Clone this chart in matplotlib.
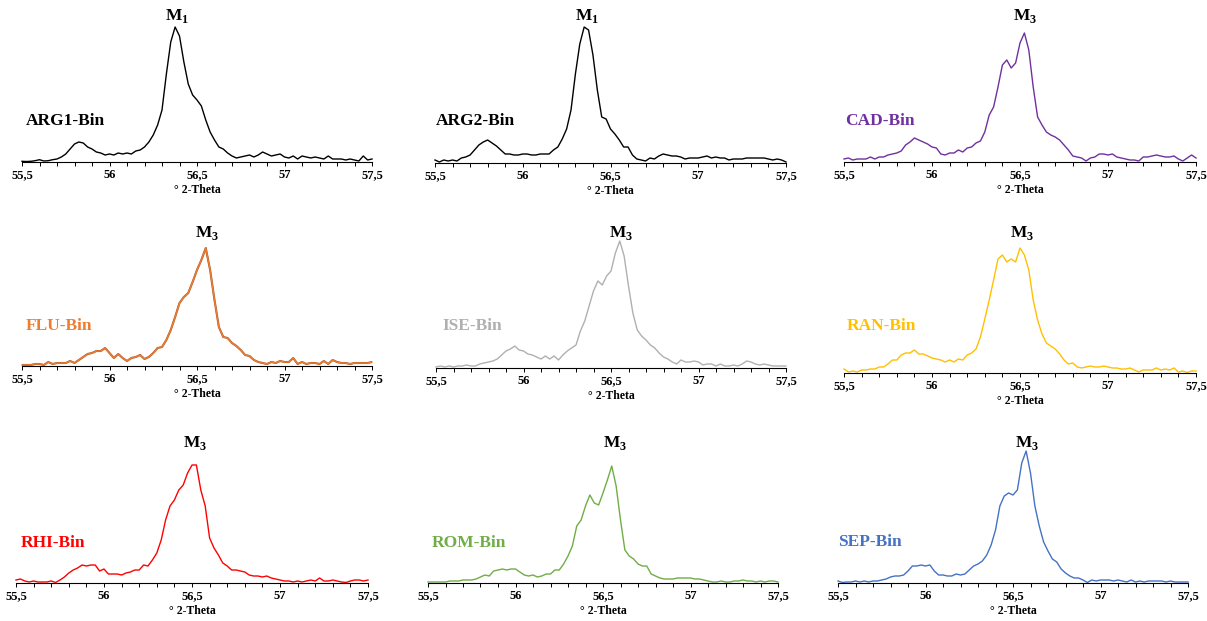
import matplotlib
matplotlib.use("Agg")
import matplotlib.pyplot as plt
import numpy as np

plt.rcParams['font.family'] = ['Liberation Serif', 'DejaVu Serif']
plt.rcParams['font.weight'] = 'bold'
plt.rcParams['mathtext.fontset'] = 'custom'
plt.rcParams['mathtext.bf'] = 'Liberation Serif:bold'
plt.rcParams['mathtext.rm'] = 'Liberation Serif:bold'

# 2-theta sampling (step 0.025 deg)
two_theta = np.round(np.arange(55.5, 57.5001, 0.025), 3)

samples = ["ARG1-Bin", "ARG2-Bin", "CAD-Bin", "FLU-Bin", "ISE-Bin",
           "RAN-Bin", "RHI-Bin", "ROM-Bin", "SEP-Bin"]
phases = ["1", "1", "3", "3", "3", "3", "3", "3", "3"]
colors = ["#000000", "#000000", "#7030A0", "#ED7D31", "#B0B0B0",
          "#FFC000", "#FF0000", "#70AD47", "#4472C4"]

# intensities (arbitrary units)
arg1 = [0.7, 0.5, 0.7, 1.3, 2.3, 1, 1.3, 2.3, 3, 5, 8, 13, 18, 20, 19, 15, 13, 10, 9, 7,
        8, 7, 9, 8, 9, 8, 11, 12, 15, 20, 27, 37, 52, 88, 120, 135, 126, 100, 78, 67,
        62, 56, 42, 30, 22, 15, 13, 9, 6, 4, 5, 6, 7, 5, 7, 10, 8, 6, 7, 8,
        5, 4, 6, 3, 6, 5, 4, 5, 4, 3, 6, 3, 3, 3, 2, 3, 2, 1, 6, 2, 3]
arg2 = [3, 1, 3, 2, 3, 2, 5, 6, 8, 13, 18, 21, 23, 20, 17, 13, 9, 9, 8, 8,
        9, 9, 8, 8, 9, 9, 9, 13, 16, 24, 34, 53, 89, 119, 136, 133, 108, 73, 46, 44,
        34, 29, 23, 16, 16, 8, 4, 3, 2, 5, 4, 7, 9, 8, 7, 7, 6, 4, 5, 5,
        5, 6, 7, 5, 6, 5, 5, 3, 4, 4, 4, 5, 5, 5, 5, 5, 4, 3, 4, 3, 1]
cad = [3, 4, 2, 3, 3, 3, 5, 3, 5, 5, 7, 8, 9, 11, 17, 20, 24, 22, 20, 18,
       15, 14, 8, 7, 9, 9, 12, 10, 14, 15, 19, 21, 30, 47, 55, 75, 97, 102, 94, 99,
       119, 129, 112, 75, 45, 37, 30, 27, 25, 22, 17, 12, 6, 5, 4, 1, 4, 5, 8, 8,
       7, 8, 5, 4, 3, 2, 2, 1, 5, 5, 6, 7, 6, 5, 5, 6, 3, 1, 4, 7, 4]
flu = [1, 1, 1, 2, 2, 1, 4, 2, 3, 3, 3, 5, 3, 6, 9, 12, 13, 15, 15, 18,
       13, 8, 12, 8, 5, 8, 9, 11, 7, 9, 13, 18, 19, 26, 36, 49, 63, 69, 73, 84,
       96, 106, 118, 96, 66, 39, 29, 28, 23, 20, 16, 11, 10, 6, 4, 3, 2, 4, 3, 5,
       4, 4, 8, 2, 4, 2, 3, 3, 2, 5, 2, 6, 4, 3, 3, 2, 3, 3, 3, 3, 4]
ise = [1, 2, 1, 2, 1, 2, 2, 3, 2, 2, 4, 5, 6, 7, 9, 13, 17, 19, 22, 18,
       17, 14, 13, 11, 9, 12, 9, 12, 8, 13, 17, 20, 23, 37, 47, 62, 77, 87, 83, 92,
       97, 115, 127, 112, 82, 55, 38, 32, 28, 23, 20, 15, 11, 9, 6, 4, 8, 6, 6, 7,
       6, 3, 4, 4, 2, 4, 2, 2, 3, 2, 4, 7, 6, 4, 3, 4, 3, 2, 2, 2, 2]
ran = [4, 1, 2, 1, 3, 3, 4, 4, 6, 6, 9, 13, 13, 18, 20, 20, 23, 19, 19, 17,
       15, 14, 13, 11, 13, 11, 14, 13, 18, 20, 24, 36, 54, 73, 93, 114, 118, 111, 114, 111,
       125, 118, 103, 73, 53, 39, 30, 27, 24, 19, 13, 9, 10, 6, 5, 6, 7, 6, 6, 7,
       6, 5, 5, 4, 4, 5, 3, 1, 3, 3, 3, 5, 3, 4, 3, 5, 1, 2, 0.5, 2, 2]
rhi = [3, 4, 2, 1, 2, 1, 1, 1, 2, 0.5, 3, 6, 10, 13, 15, 18, 17, 18, 18, 12,
       14, 9, 9, 9, 8, 10, 11, 13, 13, 18, 17, 23, 30, 43, 63, 77, 83, 93, 98, 110,
       118, 118, 93, 77, 45, 35, 28, 20, 17, 13, 13, 12, 11, 8, 7, 7, 6, 7, 5, 4,
       3, 2, 2, 1, 2, 1, 2, 3, 2, 5, 2, 2, 3, 2, 1, 0.5, 2, 3, 3, 2, 3]
rom = [1, 1, 1, 1, 1, 2, 2, 2, 3, 3, 3, 4, 6, 8, 7, 12, 13, 14, 13, 14,
       14, 11, 8, 7, 8, 6, 7, 9, 9, 13, 13, 19, 27, 37, 57, 63, 77, 88, 80, 78,
       90, 103, 117, 97, 63, 33, 27, 24, 19, 17, 17, 9, 7, 5, 4, 4, 4, 5, 5, 5,
       5, 4, 4, 3, 2, 1, 1, 2, 1, 1, 2, 2, 3, 2, 2, 1, 2, 1, 2, 2, 1]
sep = [2, 0.5, 1, 1, 2, 1, 2, 1, 2, 2, 3, 4, 6, 7, 7, 8, 12, 17, 17, 18,
       17, 18, 12, 8, 8, 7, 7, 9, 8, 9, 13, 17, 19, 22, 28, 38, 53, 77, 87, 90,
       88, 93, 120, 132, 110, 77, 57, 41, 32, 24, 21, 14, 10, 7, 5, 5, 3, 0.5, 3, 2,
       3, 3, 3, 2, 3, 2, 1, 3, 1, 2, 1, 2, 2, 2, 2, 1, 2, 1, 1, 1, 1]
series = [arg1, arg2, cad, flu, ise, ran, rhi, rom, sep]

tick_pos = [55.5, 56, 56.5, 57, 57.5]
tick_lab = ["55,5", "56", "56,5", "57", "57,5"]

# panel layout in pixels (left, right, baseline y)
W, H = 1207, 621
lefts = [22, 435, 844, 22, 436, 844, 16, 428, 838]
rights = [372, 786, 1196, 372, 786, 1196, 368, 778, 1188]
base_y = [162, 163, 162, 366, 368, 373, 583, 583, 583]
name_xy = [(26, 121), (436, 121), (845, 121), (26, 326), (442, 326), (847, 326),
           (21, 543), (432, 543), (838, 542)]
phase_xy = [(177, 16), (587, 16), (1025, 16), (207, 233), (621, 233), (1022, 233),
            (195, 443), (615, 443), (1027, 443)]
top_h = 145

fig = plt.figure(figsize=(W / 100, H / 100), dpi=100)

for i in range(9):
    ax = fig.add_axes([lefts[i] / W, 1 - base_y[i] / H,
                       (rights[i] - lefts[i]) / W, top_h / H])
    if i == 3:
        ax.plot(two_theta, series[i], color="#A8572A", lw=1.5)
    ax.plot(two_theta, series[i], color=colors[i], lw=1.0, clip_on=False)
    ax.set_xlim(55.5, 57.5)
    ax.set_ylim(0, top_h)
    for s in ["top", "left", "right"]:
        ax.spines[s].set_visible(False)
    ax.spines["bottom"].set_linewidth(0.8)
    ax.set_yticks([])
    ax.set_xticks(tick_pos)
    ax.set_xticklabels(tick_lab)
    ax.set_xticks(np.round(np.arange(55.5, 57.51, 0.1), 1), minor=True)
    ax.tick_params(axis="x", which="both", direction="out", length=3, width=0.7,
                   labelsize=9, pad=2)
    ax.patch.set_alpha(0)
    cx = (lefts[i] + rights[i]) / 2
    fig.text(cx / W, 1 - (base_y[i] + 28) / H, "° 2-Theta", fontsize=8.5,
             fontweight="bold", ha="center", va="center")
    fig.text(name_xy[i][0] / W, 1 - name_xy[i][1] / H, samples[i], fontsize=12.5,
             fontweight="bold", color=colors[i], ha="left", va="center")
    fig.text(phase_xy[i][0] / W, 1 - phase_xy[i][1] / H,
             r"$\mathbf{M}_{\mathbf{" + phases[i] + "}}$", fontsize=12.5,
             ha="center", va="center")

fig.savefig("out.png", dpi=100)
